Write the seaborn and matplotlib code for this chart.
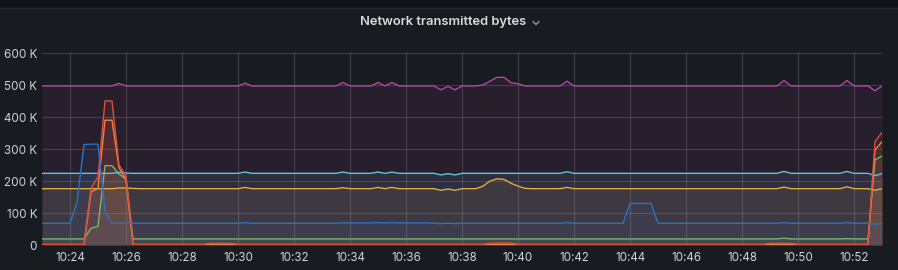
import matplotlib
matplotlib.use("Agg")
import numpy as np
import pandas as pd
import matplotlib.pyplot as plt
import matplotlib.dates as mdates
from matplotlib.ticker import FuncFormatter, FixedLocator
from matplotlib.patches import Rectangle
from matplotlib.lines import Line2D
import seaborn as sns

# ---------------- data (values in K bytes, one point every 15 s from 10:23) ----
START_TIME = "2024-01-01 10:23:00"
STEP = "15s"
TITLE = "Network transmitted bytes"
Y_TICKS = [0, 100, 200, 300, 400, 500, 600]

GREEN = [
    19, 19, 19, 19, 19, 19, 19, 52, 58, 248,
    248, 222, 206, 19, 19, 19, 19, 19, 19, 19,
    19, 19, 19, 19, 19, 19, 19, 19, 19, 19,
    19, 19, 19, 19, 19, 19, 19, 19, 19, 19,
    19, 19, 19, 19, 19, 19, 19, 19, 19, 19,
    19, 19, 19, 19, 19, 19, 19, 19, 19, 19,
    19, 19, 19, 19, 19, 19, 19, 19, 19, 19,
    19, 19, 19, 19, 19, 19, 19, 19, 19, 19,
    19, 19, 19, 19, 19, 19, 19, 19, 19, 19,
    19, 19, 19, 19, 19, 19, 19, 19, 19, 19,
    19, 19, 19, 19, 19, 19, 21, 19, 19, 19,
    19, 19, 19, 19, 19, 20, 19, 19, 19, 266,
    278]

YELLOW = [
    176, 176, 176, 176, 176, 176, 176, 176, 176, 176,
    176, 178, 178, 177, 176, 176, 176, 176, 176, 176,
    176, 176, 176, 176, 176, 176, 176, 176, 176, 180,
    176, 176, 176, 176, 176, 176, 176, 176, 176, 176,
    176, 176, 176, 179, 176, 176, 176, 176, 180, 176,
    180, 176, 176, 176, 176, 176, 176, 171, 175, 171,
    176, 176, 176, 184, 200, 207, 205, 193, 184, 177,
    176, 176, 176, 176, 176, 180, 176, 176, 176, 176,
    176, 176, 176, 176, 176, 176, 176, 176, 176, 176,
    176, 176, 176, 176, 176, 176, 176, 176, 176, 176,
    176, 176, 176, 176, 176, 176, 181, 176, 176, 176,
    176, 176, 176, 176, 176, 182, 176, 176, 176, 171,
    176]

LIGHT_BLUE = [
    224, 224, 224, 224, 224, 224, 224, 224, 224, 224,
    224, 227, 225, 224, 224, 224, 224, 224, 224, 224,
    224, 224, 224, 224, 224, 224, 224, 224, 224, 228,
    224, 224, 224, 224, 224, 224, 224, 224, 224, 224,
    224, 224, 224, 228, 224, 224, 224, 224, 228, 224,
    228, 224, 224, 224, 224, 224, 224, 219, 223, 219,
    224, 224, 224, 224, 224, 224, 224, 224, 224, 224,
    224, 224, 224, 224, 224, 229, 224, 224, 224, 224,
    224, 224, 224, 224, 224, 224, 224, 224, 224, 224,
    224, 224, 224, 224, 224, 224, 224, 224, 224, 224,
    224, 224, 224, 224, 224, 224, 230, 224, 224, 224,
    224, 224, 224, 224, 224, 230, 224, 224, 224, 217,
    223]

ORANGE = [
    1, 1, 1, 1, 1, 1, 1, 165, 177, 390,
    390, 242, 204, 1, 1, 1, 1, 1, 1, 1,
    1, 1, 1, 1, 2, 2, 2, 2, 1, 1,
    1, 1, 1, 1, 1, 1, 1, 1, 1, 1,
    1, 1, 1, 1, 1, 1, 1, 1, 1, 1,
    1, 1, 1, 1, 1, 1, 1, 1, 1, 1,
    1, 1, 1, 1, 1, 2, 2, 2, 1, 1,
    1, 1, 1, 1, 1, 1, 1, 1, 1, 1,
    1, 1, 1, 1, 1, 1, 1, 1, 1, 1,
    1, 1, 1, 1, 1, 1, 1, 1, 1, 1,
    1, 1, 1, 1, 2, 2, 2, 2, 1, 1,
    1, 1, 1, 1, 1, 1, 1, 1, 1, 297,
    323]

RED = [
    2, 2, 2, 2, 2, 2, 2, 178, 212, 450,
    450, 250, 217, 2, 2, 2, 2, 2, 2, 2,
    2, 2, 2, 2, 5, 5, 5, 5, 2, 2,
    2, 2, 2, 2, 2, 2, 2, 2, 2, 2,
    2, 2, 2, 2, 2, 2, 2, 2, 2, 2,
    2, 2, 2, 2, 2, 2, 2, 2, 2, 2,
    2, 2, 2, 2, 6, 6, 6, 6, 2, 2,
    2, 2, 2, 2, 2, 2, 2, 2, 2, 2,
    2, 2, 2, 2, 2, 2, 2, 2, 2, 2,
    2, 2, 2, 2, 2, 2, 2, 2, 2, 2,
    2, 2, 2, 2, 5, 5, 5, 5, 2, 2,
    2, 2, 2, 2, 2, 2, 2, 2, 2, 323,
    352]

BLUE = [
    68, 68, 68, 68, 68, 133, 314, 315, 315, 106,
    68, 68, 68, 68, 68, 68, 68, 68, 68, 68,
    68, 68, 68, 68, 68, 68, 68, 68, 68, 70,
    68, 68, 68, 68, 68, 68, 68, 68, 68, 68,
    68, 68, 68, 69, 69, 69, 69, 69, 70, 69,
    70, 69, 69, 69, 69, 69, 68, 67, 68, 67,
    68, 68, 68, 68, 68, 68, 68, 68, 68, 68,
    68, 68, 68, 68, 68, 70, 68, 68, 68, 68,
    68, 68, 68, 68, 130, 130, 130, 130, 68, 68,
    68, 68, 68, 68, 68, 68, 68, 68, 68, 68,
    68, 68, 68, 68, 68, 68, 70, 68, 68, 68,
    68, 68, 68, 68, 68, 70, 68, 68, 68, 65,
    67]

MAGENTA = [
    497, 497, 497, 497, 497, 497, 497, 497, 497, 497,
    497, 505, 497, 497, 497, 497, 497, 497, 497, 497,
    497, 497, 497, 497, 497, 497, 497, 497, 497, 506,
    497, 497, 497, 497, 497, 497, 497, 497, 497, 497,
    497, 497, 497, 508, 497, 497, 497, 497, 508, 497,
    508, 497, 497, 497, 497, 497, 497, 485, 496, 485,
    497, 497, 497, 500, 512, 524, 524, 507, 504, 497,
    497, 497, 497, 497, 497, 512, 497, 497, 497, 497,
    497, 497, 497, 497, 497, 497, 497, 497, 497, 497,
    497, 497, 497, 497, 497, 497, 497, 497, 497, 497,
    497, 497, 497, 497, 497, 497, 514, 497, 497, 497,
    497, 497, 497, 497, 497, 514, 497, 497, 497, 482,
    497]

SERIES = {
    "series 1": GREEN,
    "series 2": YELLOW,
    "series 3": LIGHT_BLUE,
    "series 4": ORANGE,
    "series 5": RED,
    "series 6": BLUE,
    "series 7": MAGENTA,
}
COLORS = ["#7EB26D", "#E0AD3E", "#62C2DE", "#EF843C", "#E24D42", "#2A72C4", "#BA43A9"]

# ---------------- styling ----------------
PAGE_BG = "#111217"
PANEL_BG = "#181b1f"
TEXT = "#ccd3dc"

sns.set_theme(style="dark", rc={
    "axes.facecolor": PANEL_BG,
    "figure.facecolor": PANEL_BG,
    "axes.edgecolor": PANEL_BG,
})
plt.rcParams["font.family"] = ["Inter", "DejaVu Sans"]

W, H = 898, 270
times = pd.date_range(START_TIME, periods=len(MAGENTA), freq=STEP)
df = pd.DataFrame({"time": times, **SERIES})
long = df.melt(id_vars="time", var_name="series", value_name="value")
order = list(SERIES.keys())
palette = dict(zip(order, COLORS))

fig = plt.figure(figsize=(W / 100, H / 100), dpi=100, facecolor=PANEL_BG)
# page strip at the very top
fig.patches.append(Rectangle((0, 1 - 7 / H), 1, 7 / H, transform=fig.transFigure,
                             facecolor=PAGE_BG, edgecolor="none", zorder=0))
fig.lines.append(Line2D([0, 1], [1 - 7.5 / H] * 2, transform=fig.transFigure,
                        color="#25282d", lw=0.8))

ax = fig.add_axes([42 / W, 25 / H, 840 / W, 192 / H])
ax.set_facecolor(PANEL_BG)

for name in order:
    ax.fill_between(df["time"], 0, df[name], color=palette[name], alpha=0.1,
                    lw=0, zorder=1)

sns.lineplot(data=long, x="time", y="value", hue="series", hue_order=order,
             palette=palette, estimator=None, lw=1.0, legend=False, ax=ax,
             zorder=3)

ax.set_xlim(pd.Timestamp("2024-01-01 10:23:00"), pd.Timestamp("2024-01-01 10:53:00"))
ax.set_ylim(0, 600)
ax.xaxis.set_major_locator(mdates.MinuteLocator(byminute=range(0, 60, 2)))
ax.xaxis.set_major_formatter(mdates.DateFormatter("%H:%M"))
ax.yaxis.set_major_locator(FixedLocator(Y_TICKS))
ax.yaxis.set_major_formatter(FuncFormatter(lambda v, p: "0" if v == 0 else f"{int(v)} K"))

ax.grid(True, color="white", alpha=0.16, lw=0.8, zorder=0)
ax.set_axisbelow(True)
for s in ax.spines.values():
    s.set_visible(False)
ax.set_xlabel("")
ax.set_ylabel("")
ax.tick_params(axis="both", length=0, colors=TEXT, labelsize=8.4)
ax.tick_params(axis="x", pad=5.0)
ax.tick_params(axis="y", pad=3.5)

fig.text(443 / W, 1 - 22 / H, TITLE, ha="center", va="center", fontsize=9.3,
         fontweight="semibold", color="#d8d9da")
fig.lines.append(Line2D([533 / W, 536 / W, 539 / W],
                        [1 - 21.5 / H, 1 - 24.5 / H, 1 - 21.5 / H],
                        transform=fig.transFigure, color="#9fa7b3", lw=0.9))

fig.savefig("out.png", dpi=100, facecolor=fig.get_facecolor())
